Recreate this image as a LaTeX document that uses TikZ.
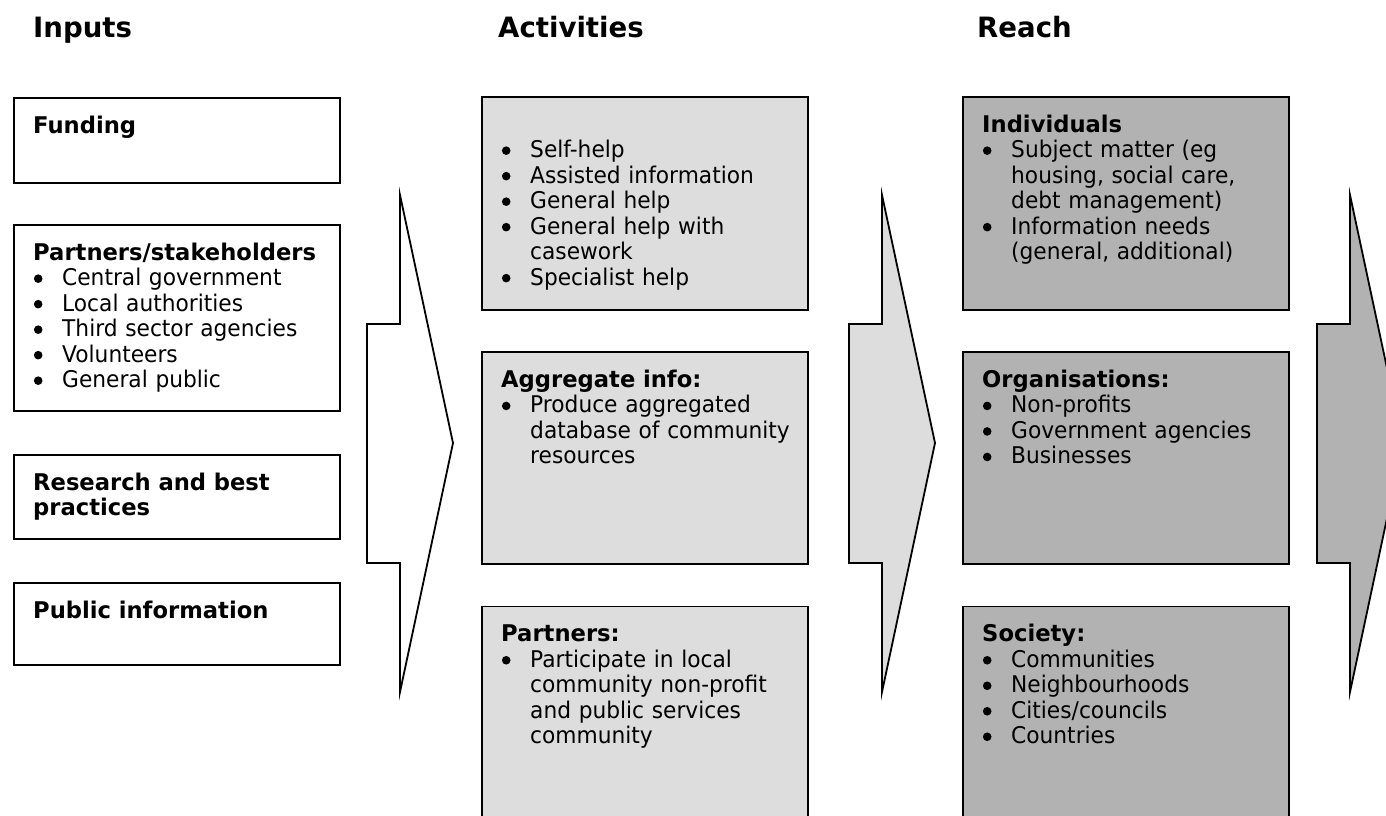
\documentclass[tikz,border=0pt]{standalone}
\usepackage{fontspec}
\setmainfont{DejaVu Sans}[FakeStretch=0.945,BoldFeatures={FakeStretch=0.985}]
\usepackage{enumitem}
\setlist[itemize]{label={\tikz[baseline=-0.3em]\fill (0,0) circle (4.3pt);},
  leftmargin=29pt,labelsep=19.7pt,nosep}
\usetikzlibrary{positioning}

\definecolor{actgray}{gray}{0.867}
\definecolor{reachgray}{gray}{0.70}

\begin{document}
\begin{tikzpicture}[x=1pt,y=-1pt,
  box/.style={draw, line width=1.6pt, minimum width=326pt, inner sep=0pt, anchor=north west},
  inbox/.style={box, fill=white},
  actbox/.style={box, fill=actgray},
  reachbox/.style={box, fill=reachgray},
  boxtext/.style={anchor=north west, inner sep=0pt, text width=310pt, align=left,
    font=\fontsize{23}{25.5}\selectfont},
  colhead/.style={anchor=base west, inner sep=0pt, font=\fontsize{28}{34}\selectfont\bfseries},
  bigarrow/.style={draw, line width=1.8pt, line join=miter}]

  \fill[white] (0,0) rectangle (1386,815);
  \clip (0,0) rectangle (1386,815);

  % Kopfzeilen
  \node[colhead] (inputshead) at (33,37) {Inputs};
  \node[colhead] (acthead) at (498,37) {Activities};
  \node[colhead] (reachhead) at (977,37) {Reach};

  % Spalte 1: Inputs
  \node[inbox, minimum height=85pt] (funding) at (13,97) {};
  \node[inbox, minimum height=186pt, below=40.4pt of funding] (partners) {};
  \node[inbox, minimum height=84pt, below=42.4pt of partners] (research) {};
  \node[inbox, minimum height=82pt, below=42.4pt of research] (publicinfo) {};

  \node[boxtext] (fundingtxt) at ([xshift=20pt,yshift=-18pt]funding.north west)
    {\strut\textbf{Funding}};
  \node[boxtext] (partnerstxt) at ([xshift=20pt,yshift=-18pt]partners.north west)
    {\strut\textbf{Partners/stakeholders}
     \begin{itemize}
       \item Central government
       \item Local authorities
       \item Third sector agencies
       \item Volunteers
       \item General public
     \end{itemize}};
  \node[boxtext] (researchtxt) at ([xshift=20pt,yshift=-18pt]research.north west)
    {\strut{\bfseries Research and best\\practices}};
  \node[boxtext] (publicinfotxt) at ([xshift=20pt,yshift=-18pt]publicinfo.north west)
    {\strut\textbf{Public information}};

  % Spalte 2: Activities
  \node[actbox, minimum height=213pt] (helpbox) at (481,96) {};
  \node[actbox, minimum height=212pt, below=40.7pt of helpbox] (aggbox) {};
  \node[actbox, minimum height=240pt, below=40.7pt of aggbox] (partbox) {};

  \node[boxtext] (helptxt) at ([xshift=20pt,yshift=-18pt]helpbox.north west)
    {\strut
     \begin{itemize}
       \item Self-help
       \item Assisted information
       \item General help
       \item General help with\\casework
       \item Specialist help
     \end{itemize}};
  \node[boxtext] (aggtxt) at ([xshift=20pt,yshift=-18pt]aggbox.north west)
    {\strut\textbf{Aggregate info:}
     \begin{itemize}
       \item Produce aggregated\\database of community\\resources
     \end{itemize}};
  \node[boxtext] (parttxt) at ([xshift=20pt,yshift=-18pt]partbox.north west)
    {\strut\textbf{Partners:}
     \begin{itemize}
       \item Participate in local\\community non-profit\\and public services\\community
     \end{itemize}};

  % Spalte 3: Reach
  \node[reachbox, minimum height=213pt] (indivbox) at (962,96) {};
  \node[reachbox, minimum height=212pt, below=40.7pt of indivbox] (orgbox) {};
  \node[reachbox, minimum height=240pt, below=40.7pt of orgbox] (socbox) {};

  \node[boxtext] (indivtxt) at ([xshift=20pt,yshift=-18pt]indivbox.north west)
    {\strut\textbf{Individuals}
     \begin{itemize}
       \item Subject matter (eg\\housing, social care,\\debt management)
       \item Information needs\\(general, additional)
     \end{itemize}};
  \node[boxtext] (orgtxt) at ([xshift=20pt,yshift=-18pt]orgbox.north west)
    {\strut\textbf{Organisations:}
     \begin{itemize}
       \item Non-profits
       \item Government agencies
       \item Businesses
     \end{itemize}};
  \node[boxtext] (soctxt) at ([xshift=20pt,yshift=-18pt]socbox.north west)
    {\strut\textbf{Society:}
     \begin{itemize}
       \item Communities
       \item Neighbourhoods
       \item Cities/councils
       \item Countries
     \end{itemize}};

  % Blockpfeile zwischen den Spalten
  \foreach \ax/\fc in {367/white, 849/actgray, 1317/reachgray}
    \draw[bigarrow, fill=\fc] (\ax,324) -- ++(33,0) -- ++(0,-129) -- (\ax+86,443)
      -- (\ax+33,692) -- ++(0,-129) -- (\ax,563) -- cycle;
\end{tikzpicture}
\end{document}
